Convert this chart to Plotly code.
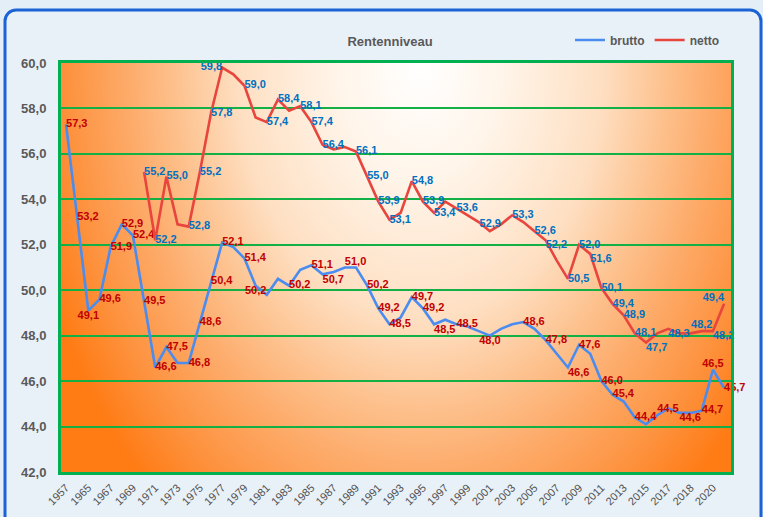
import base64
import plotly.graph_objects as go

# ---------------- data ----------------
tick_labels = ["1957", "1965", "1967", "1969", "1971", "1973", "1975", "1977", "1979", "1981",
               "1983", "1985", "1987", "1989", "1991", "1993", "1995", "1997", "1999", "2001",
               "2003", "2005", "2007", "2009", "2011", "2013", "2015", "2017", "2018", "2020"]

brutto = [57.3, 53.2, 49.1, 49.6, 51.9, 52.9, 52.4, 49.5, 46.6, 47.5,
          46.8, 46.8, 48.6, 50.4, 52.1, 51.9, 51.4, 50.2, 49.8, 50.5,
          50.2, 50.9, 51.1, 50.7, 50.8, 51.0, 51.0, 50.2, 49.2, 48.5,
          48.8, 49.7, 49.2, 48.5, 48.7, 48.5, 48.4, 48.2, 48.0, 48.3,
          48.5, 48.6, 48.3, 47.8, 47.2, 46.6, 47.6, 47.2, 46.0, 45.4,
          45.1, 44.4, 44.1, 44.5, 44.8, 44.6, 44.6, 44.7, 46.5, 45.7]

netto = [None, None, None, None, None, None, None, 55.2, 52.2, 55.0,
         52.9, 52.8, 55.2, 57.8, 59.8, 59.5, 59.0, 57.6, 57.4, 58.4,
         57.9, 58.1, 57.4, 56.4, 56.2, 56.3, 56.1, 55.0, 53.9, 53.1,
         53.4, 54.8, 53.9, 53.4, 53.9, 53.6, 53.3, 53.0, 52.6, 52.9,
         53.3, 53.0, 52.6, 52.2, 51.3, 50.5, 52.0, 51.6, 50.1, 49.4,
         48.9, 48.1, 47.7, 48.1, 48.3, 48.1, 48.1, 48.2, 48.2, 49.4]

# which points carry a data label, and where the label sits
brutto_labels = {0: "middle right", 1: "middle right", 2: "bottom center", 3: "middle right",
                 4: "middle right", 5: "middle right", 6: "middle right", 7: "middle right",
                 8: "middle right", 9: "middle right", 11: "middle right", 12: "middle right",
                 13: "middle right", 14: "middle right", 16: "middle right", 17: "bottom center",
                 20: "middle right", 22: "middle right", 23: "bottom right", 25: "top right",
                 27: "middle right", 28: "middle right", 29: "middle right", 31: "middle right",
                 32: "middle right", 33: "bottom right", 35: "middle right", 38: "bottom center",
                 41: "middle right", 43: "middle right", 45: "bottom right", 46: "middle right",
                 48: "middle right", 49: "middle right", 51: "middle right", 53: "top right",
                 55: "bottom right", 57: "middle right", 58: "top center", 59: "middle right"}

netto_labels = {7: "middle right", 8: "middle right", 9: "middle right", 11: "middle right",
                12: "middle right", 13: "middle right", 14: "middle left", 16: "middle right",
                18: "middle right", 19: "middle right", 21: "middle right", 22: "middle right",
                23: "middle right", 26: "middle right", 27: "middle right", 28: "middle right",
                29: "middle right", 31: "middle right", 32: "middle right", 33: "middle right",
                35: "middle right", 39: "middle left", 40: "middle right", 42: "middle right",
                43: "bottom right", 45: "middle right", 46: "middle right", 47: "bottom right",
                48: "middle right", 49: "middle right", 50: "middle right", 51: "middle right",
                52: "bottom right", 54: "bottom right", 57: "top center", 58: "bottom right",
                59: "top left"}

# ---------------- helpers ----------------
def fmt(v):
    return f"{v:.1f}".replace(".", ",")

def labels_for(values, spec):
    texts, pos = [], []
    for i, v in enumerate(values):
        if v is not None and i in spec:
            texts.append(fmt(v))
            pos.append(spec[i])
        else:
            texts.append("")
            pos.append("middle right")
    return texts, pos

x_idx = list(range(len(brutto)))
b_text, b_pos = labels_for(brutto, brutto_labels)
n_text, n_pos = labels_for(netto, netto_labels)

# ---------------- geometry (pixels) ----------------
W, H = 763, 517
L, R, T, B = 61, 32, 63, 45
PW, PH = W - L - R, H - T - B

# background: panel with rounded border + radial orange gradient in plot area
svg = f'''<svg xmlns="http://www.w3.org/2000/svg" width="{W}" height="{H}" viewBox="0 0 {W} {H}">
<defs>
<radialGradient id="g" cx="0" cy="0" r="1" gradientUnits="userSpaceOnUse"
 gradientTransform="translate(420,{T}) scale(405,570)">
<stop offset="0" stop-color="#ffffff"/>
<stop offset="0.2" stop-color="#fff5ea"/>
<stop offset="0.45" stop-color="#fedfc2"/>
<stop offset="0.6" stop-color="#fdc28f"/>
<stop offset="0.72" stop-color="#fdab6a"/>
<stop offset="0.86" stop-color="#fd9442"/>
<stop offset="1" stop-color="#ff7b14"/>
</radialGradient>
</defs>
<rect x="0" y="0" width="{W}" height="{H}" fill="#e4eef6"/>
<rect x="5" y="10" width="756" height="560" rx="11" ry="11" fill="#e9f1f8" stroke="#1a62d6" stroke-width="3"/>
<rect x="{L}" y="{T}" width="{PW}" height="{PH}" fill="url(#g)"/>
</svg>'''
svg_uri = "data:image/svg+xml;base64," + base64.b64encode(svg.encode()).decode()

FONT = "Liberation Sans, Arial, sans-serif"
label_font = dict(family=FONT, size=11)

fig = go.Figure()
fig.add_trace(go.Scatter(
    x=x_idx, y=brutto, name="brutto", mode="lines+text",
    line=dict(color="#4a8cf0", width=2.6),
    text=b_text, textposition=b_pos,
    textfont=dict(color="#c00000", **label_font),
    texttemplate="<b>%{text}</b>",
    cliponaxis=False, hoverinfo="x+y"))
fig.add_trace(go.Scatter(
    x=x_idx, y=netto, name="netto", mode="lines+text",
    line=dict(color="#e8453c", width=2.6),
    text=n_text, textposition=n_pos,
    textfont=dict(color="#0070c0", **label_font),
    texttemplate="<b>%{text}</b>",
    cliponaxis=False, connectgaps=False, hoverinfo="x+y"))

fig.update_layout(
    width=W, height=H,
    margin=dict(l=L, r=R, t=T, b=B, pad=0, autoexpand=False),
    paper_bgcolor="#e4eef6",
    plot_bgcolor="rgba(0,0,0,0)",
    separators=",.",
    font=dict(family=FONT, color="#595959"),
    title=dict(text="<b>Rentenniveau</b>", x=390 / W, xanchor="center",
               y=1 - 41 / H, yanchor="middle", xref="container", yref="container",
               font=dict(size=13, color="#595959")),
    legend=dict(orientation="h", x=(570 - L) / PW, y=(H - B - 40) / PH,
                xanchor="left", yanchor="middle", bgcolor="rgba(0,0,0,0)",
                font=dict(size=12, color="#595959", weight="bold"), itemwidth=30,
                tracegroupgap=0),
    showlegend=True,
    images=[dict(source=svg_uri, xref="paper", yref="paper",
                 x=-L / PW, y=(PH + T) / PH, sizex=W / PW, sizey=H / PH,
                 xanchor="left", yanchor="top", sizing="stretch", layer="below")],
)

fig.update_xaxes(
    range=[-0.45, 59.62], tickmode="array", automargin=False,
    tickvals=list(range(0, 2 * len(tick_labels), 2)), ticktext=tick_labels,
    tickangle=-45, tickfont=dict(size=11, color="#505050"),
    showgrid=False, zeroline=False,
    showline=True, linecolor="#00b050", linewidth=3, mirror=True,
    ticks="outside", ticklen=2, tickcolor="rgba(0,0,0,0)")
fig.update_yaxes(
    range=[42, 60], dtick=2, tick0=42, tickformat=".1f", automargin=False,
    tickfont=dict(size=13, color="#595959", family=FONT, weight="bold"),
    showgrid=True, gridcolor="#12b045", gridwidth=1.5, zeroline=False,
    showline=True, linecolor="#00b050", linewidth=3, mirror=True,
    ticks="outside", ticklen=9, tickcolor="rgba(0,0,0,0)")

fig.write_html("out.html",
               config={"displayModeBar": False},
               post_script="document.body.style.margin='0';document.body.style.overflow='hidden';")
